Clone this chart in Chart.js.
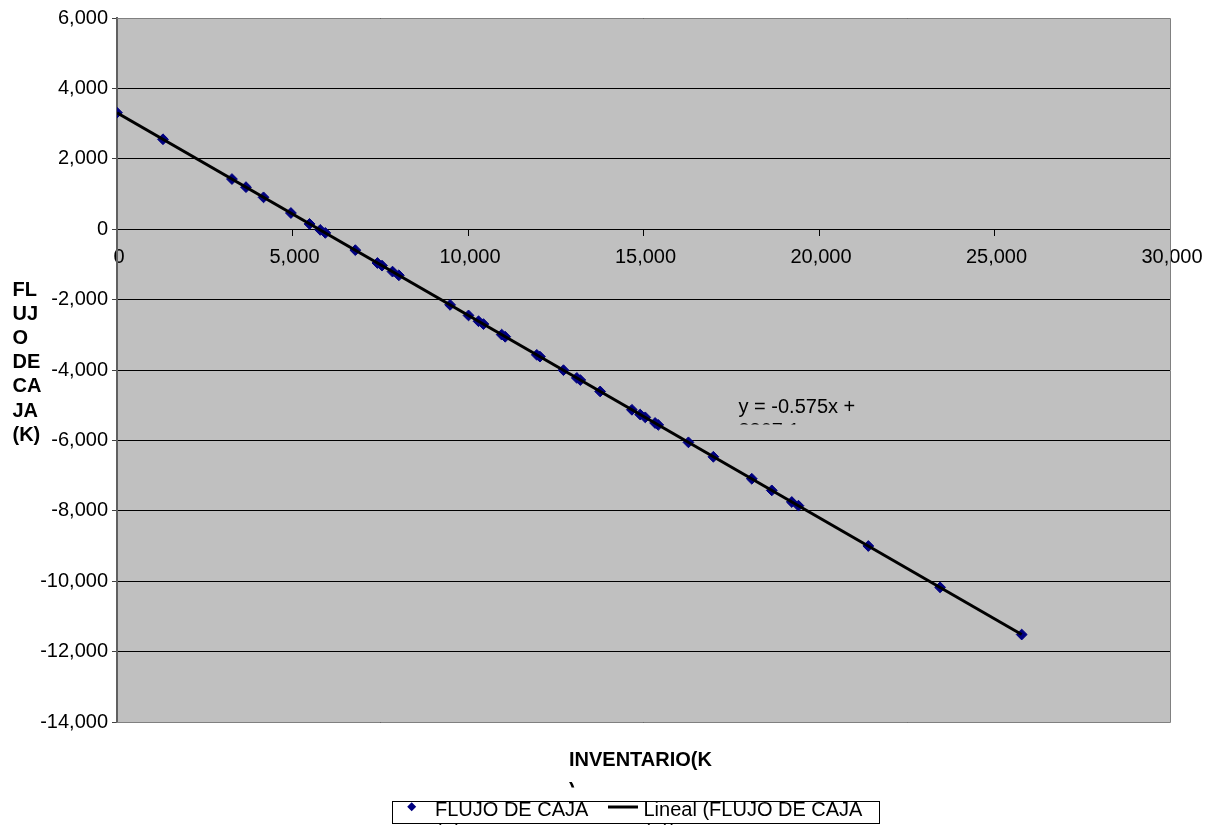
<!DOCTYPE html>
<html>
<head>
<meta charset="utf-8">
<title>Flujo de caja vs inventario</title>
<script src="https://cdn.jsdelivr.net/npm/chart.js@4/dist/chart.umd.min.js"></script>
<style>
  html, body { margin: 0; padding: 0; background: #ffffff; }
  #wrap { width: 1216px; height: 825px; position: relative; }
</style>
</head>
<body>
<div id="wrap"><canvas id="chart" width="1216" height="825"></canvas></div>
<script>
// Inventario (K) on x, flujo de caja (K) on y
const inventario = [
  0, 1310, 3275, 3675, 4175, 4955, 5485, 5790, 5935, 6790,
  7420, 7550, 7850, 8030, 9490, 10015, 10300, 10440, 10960, 11060,
  11960, 12050, 12720, 13100, 13200, 13765, 14670, 14905, 15050, 15330,
  15420, 16280, 16990, 18085, 18655, 19225, 19415, 21405, 23450, 25775
];
const flujoCaja = [
  3310, 2555, 1425, 1195, 905, 460, 150, -20, -105, -595,
  -960, -1035, -1205, -1310, -2150, -2450, -2615, -2695, -2995, -3055,
  -3570, -3620, -4005, -4225, -4285, -4610, -5130, -5265, -5345, -5505,
  -5560, -6055, -6465, -7090, -7420, -7750, -7855, -9000, -10175, -11515
];

// Linear trend as printed on the chart
const trendSlope = -0.575;
const trendIntercept = 3307.1;
const trendLabelLines = ['y = -0.575x +', '3307.1'];

// Axis ticks
const xTickValues = [0, 5000, 10000, 15000, 20000, 25000, 30000];
const yTickValues = [-14000, -12000, -10000, -8000, -6000, -4000, -2000, 0, 2000, 4000, 6000];

// Titles and legend entries (wrapped as they appear)
const yTitleLines = ['FL', 'UJ', 'O', 'DE', 'CA', 'JA', '(K)'];
const xTitleLines = ['INVENTARIO(K', ')'];
const seriesLegendLines = ['FLUJO DE CAJA', '(K)'];
const trendLegendLines = ['Lineal (FLUJO DE CAJA', '(K))'];

const FONT = '"Liberation Sans", Arial, Helvetica, sans-serif';
const MARKER = '#000080';

const points = inventario.map((x, i) => ({ x: x, y: flujoCaja[i] }));
const xFirst = Math.min(...inventario);
const xLast = Math.max(...inventario);
const trendPoints = [xFirst, xLast].map(x => ({ x: x, y: trendIntercept + trendSlope * x }));

function fmt(v) { return Number(v).toLocaleString('en-US'); }

// Grey plot area and its outer frame
const plotFrame = {
  id: 'plotFrame',
  beforeDraw(chart) {
    const { ctx, chartArea: a } = chart;
    ctx.save();
    ctx.fillStyle = '#ffffff';
    ctx.fillRect(0, 0, chart.width, chart.height);
    ctx.fillStyle = '#c0c0c0';
    ctx.fillRect(a.left, a.top, a.right - a.left, a.bottom - a.top);
    ctx.restore();
  },
  beforeDatasetsDraw(chart) {
    const { ctx, chartArea: a } = chart;
    ctx.save();
    ctx.strokeStyle = '#808080';
    ctx.lineWidth = 1;
    ctx.beginPath();
    ctx.moveTo(a.left, a.top + 0.5);
    ctx.lineTo(a.right + 0.5, a.top + 0.5);
    ctx.lineTo(a.right + 0.5, a.bottom + 0.5);
    ctx.lineTo(a.left, a.bottom + 0.5);
    ctx.stroke();
    ctx.restore();
  }
};

// Axis titles, trend equation and the boxed legend
const annotations = {
  id: 'annotations',
  afterDraw(chart) {
    const ctx = chart.ctx;
    ctx.save();
    ctx.fillStyle = '#000000';
    ctx.textAlign = 'left';
    ctx.textBaseline = 'alphabetic';

    // vertical axis title, one short line under another
    ctx.font = 'bold 20px ' + FONT;
    yTitleLines.forEach((t, i) => ctx.fillText(t, 12.5, 295.5 + i * 24.2));

    // horizontal axis title; its second line is cut off by the frame
    ctx.fillText(xTitleLines[0], 569, 766);
    ctx.save();
    ctx.beginPath();
    ctx.rect(0, 770, chart.width, 17.5);
    ctx.clip();
    ctx.fillText(xTitleLines[1], 569, 797);
    ctx.restore();

    // trend equation, clipped inside its label box
    ctx.font = '20px ' + FONT;
    ctx.save();
    ctx.beginPath();
    ctx.rect(730, 392, 200, 32.5);
    ctx.clip();
    ctx.fillText(trendLabelLines[0], 738.5, 412.5);
    ctx.fillText(trendLabelLines[1], 738.5, 437);
    ctx.restore();

    // legend box
    const bx = 392.5, by = 801.5, bw = 487, bh = 22;
    ctx.fillStyle = '#ffffff';
    ctx.fillRect(bx, by, bw, bh);
    ctx.strokeStyle = '#000000';
    ctx.lineWidth = 1;
    ctx.strokeRect(bx, by, bw, bh);

    // series marker
    const mx = 411.7, my = 806.7, mr = 4.5;
    ctx.fillStyle = MARKER;
    ctx.beginPath();
    ctx.moveTo(mx, my - mr);
    ctx.lineTo(mx + mr, my);
    ctx.lineTo(mx, my + mr);
    ctx.lineTo(mx - mr, my);
    ctx.closePath();
    ctx.fill();

    // trend line sample
    ctx.strokeStyle = '#000000';
    ctx.lineWidth = 3;
    ctx.beginPath();
    ctx.moveTo(608, 807);
    ctx.lineTo(638, 807);
    ctx.stroke();

    ctx.fillStyle = '#000000';
    ctx.font = '20px ' + FONT;
    ctx.fillText(seriesLegendLines[0], 435, 816);
    ctx.fillText(seriesLegendLines[1], 435, 839);
    ctx.fillText(trendLegendLines[0], 643.5, 816);
    ctx.fillText(trendLegendLines[1], 643.5, 839);
    ctx.restore();
  }
};

new Chart(document.getElementById('chart'), {
  type: 'scatter',
  data: {
    datasets: [
      {
        label: trendLegendLines.join(' '),
        type: 'line',
        data: trendPoints,
        showLine: true,
        borderColor: '#000000',
        borderWidth: 3,
        pointRadius: 0,
        fill: false,
        order: 0
      },
      {
        label: seriesLegendLines.join(' '),
        data: points,
        pointStyle: 'rectRot',
        pointRadius: 5.4,
        pointBackgroundColor: MARKER,
        pointBorderColor: MARKER,
        pointBorderWidth: 1,
        order: 1
      }
    ]
  },
  options: {
    responsive: false,
    devicePixelRatio: 1,
    animation: false,
    events: [],
    layout: { padding: { left: 0, right: 46, top: 18, bottom: 103 } },
    plugins: {
      legend: { display: false },
      tooltip: { enabled: false },
      title: { display: false }
    },
    scales: {
      x: {
        type: 'linear',
        position: { y: 0 },
        min: xTickValues[0],
        max: xTickValues[xTickValues.length - 1],
        afterBuildTicks(scale) { scale.ticks = xTickValues.map(v => ({ value: v })); },
        grid: {
          display: true,
          drawOnChartArea: false,
          drawTicks: true,
          tickLength: 6,
          tickColor: '#000000',
          tickWidth: 1
        },
        border: { display: true, color: '#000000', width: 1 },
        ticks: {
          color: '#000000',
          font: { family: FONT, size: 20 },
          padding: 10,
          labelOffset: 2,
          maxRotation: 0,
          autoSkip: false,
          callback: v => fmt(v)
        }
      },
      y: {
        type: 'linear',
        position: 'left',
        min: yTickValues[0],
        max: yTickValues[yTickValues.length - 1],
        afterBuildTicks(scale) { scale.ticks = yTickValues.map(v => ({ value: v })); },
        afterFit(scale) { scale.width = 117; },
        grid: {
          display: true,
          color: '#000000',
          lineWidth: 1,
          drawTicks: true,
          tickLength: 5,
          tickColor: '#404040'
        },
        border: { display: true, color: '#606060', width: 2 },
        ticks: {
          color: '#000000',
          font: { family: FONT, size: 20 },
          padding: 4,
          autoSkip: false,
          callback: v => fmt(v)
        }
      }
    }
  },
  plugins: [plotFrame, annotations]
});
</script>
</body>
</html>
